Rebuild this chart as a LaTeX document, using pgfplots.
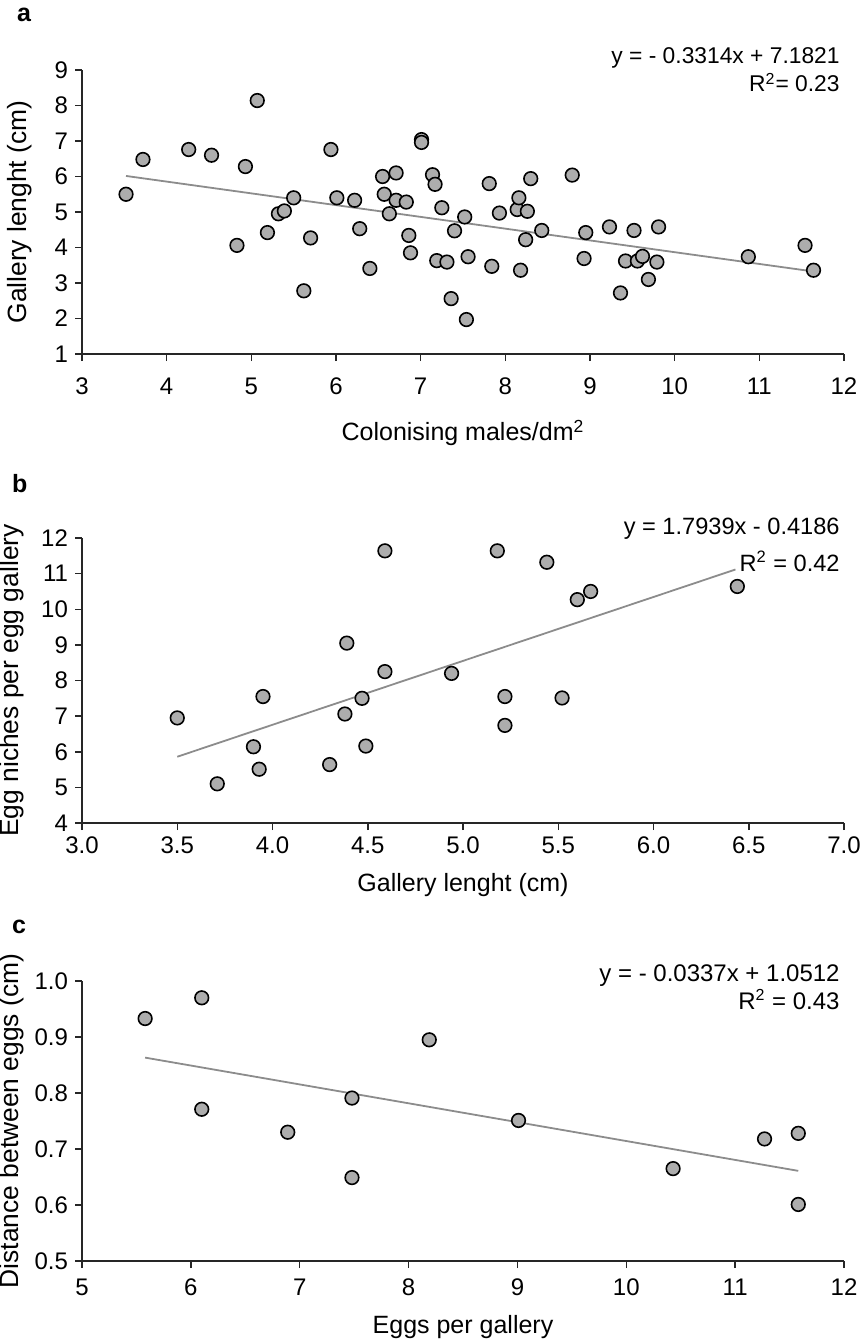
\documentclass[border=0pt]{standalone}
\usepackage{pgfplots}
\pgfplotsset{compat=1.18}
\usepackage{fontspec}
\setmainfont{Liberation Sans}
\definecolor{mfill}{gray}{0.68}
\definecolor{tline}{gray}{0.55}
\definecolor{axcol}{gray}{0.15}

\pgfplotsset{
 myax/.style={
  scale only axis, width=381pt,
  axis x line*=bottom, axis y line*=left,
  axis line style={axcol, line width=0.75pt, -},
  every tick/.style={axcol, line width=0.75pt},
  tick align=outside, major tick length=3.5pt,
  /pgf/number format/assume math mode=true,
  tick label style={font=\fontsize{12}{14}\selectfont},
  xlabel style={font=\fontsize{12.5}{15}\selectfont, anchor=center},
  ylabel style={font=\fontsize{13.2}{15}\selectfont, anchor=center, rotate=0},
  clip=false,
 },
 pts/.style={only marks, mark=*, mark size=3.4pt, mark options={fill=mfill, draw=black, line width=0.8pt}},
 trend/.style={no marks, draw=tline, line width=0.9pt},
}

\begin{document}
\begin{tikzpicture}
\useasboundingbox (0,0) rectangle (431pt,-671pt);

% ---------------- panel a
\begin{axis}[myax, height=142pt, at={(41pt,-177pt)}, anchor=south west,
  xmin=3, xmax=12, ymin=1, ymax=9,
  xtick={3,4,...,12}, ytick={1,2,...,9},
  xticklabel style={yshift=-5pt},
  xlabel={Colonising males/dm\textsuperscript{2}},
  xlabel style={at={(axis description cs:0.5,0)}, yshift=-39.5pt},
  ylabel={Gallery lenght (cm)},
  ylabel style={at={(axis description cs:-0.0814,0.5)}},
]
\addplot[trend] coordinates {(3.52,6.0156) (11.62,3.3312)};
\addplot[pts] coordinates {
(3.52,5.50) (3.72,6.48) (4.26,6.76) (4.53,6.60) (4.93,6.28) (5.07,8.14)
(5.94,6.76) (7.01,7.04) (7.01,6.96) (6.55,6.00) (6.71,6.10) (7.14,6.05)
(7.17,5.78) (7.81,5.80) (8.30,5.94) (8.79,6.04) (5.50,5.40) (5.32,4.95)
(5.39,5.03) (5.19,4.42) (4.83,4.06) (5.70,4.27) (5.62,2.78) (6.01,5.40)
(6.22,5.33) (6.28,4.53) (6.40,3.41) (6.57,5.50) (6.63,4.95) (6.71,5.33)
(6.83,5.28) (6.86,4.34) (6.88,3.85) (7.25,5.12) (7.19,3.63) (7.31,3.59)
(7.36,2.56) (7.52,4.86) (7.40,4.47) (7.56,3.74) (7.54,1.97) (7.84,3.47)
(7.93,4.97) (8.14,5.07) (8.16,5.40) (8.26,5.02) (8.24,4.22) (8.18,3.36)
(8.43,4.48) (8.95,4.42) (8.93,3.69) (9.23,4.58) (9.36,2.72) (9.42,3.62)
(9.52,4.48) (9.56,3.62) (9.62,3.75) (9.69,3.10) (9.79,3.59) (9.81,4.58)
(10.87,3.74) (11.54,4.06) (11.64,3.36)
};
\end{axis}

% ---------------- panel b
\begin{axis}[myax, height=142.5pt, at={(41pt,-411.5pt)}, anchor=south west,
  xmin=3, xmax=7, ymin=4, ymax=12,
  xtick={3,3.5,...,7}, ytick={4,5,...,12},
  xticklabel style={/pgf/number format/.cd, fixed, fixed zerofill, precision=1},
  xlabel={Gallery lenght (cm)},
  xlabel style={at={(axis description cs:0.5,0)}, yshift=-31pt},
  ylabel={Egg niches per egg gallery},
  ylabel style={at={(axis description cs:-0.0919,0.5)}},
]
\addplot[trend] coordinates {(3.50,5.8601) (6.43,11.1162)};
\addplot[pts] coordinates {
(4.59,11.64) (5.18,11.64) (5.44,11.32) (5.60,10.27) (5.67,10.50) (6.44,10.64)
(4.39,9.05) (4.59,8.25) (4.94,8.20) (3.95,7.55) (4.47,7.50) (5.22,7.55)
(5.52,7.51) (3.50,6.95) (4.38,7.06) (5.22,6.74) (3.90,6.14) (4.49,6.16)
(3.93,5.51) (4.30,5.64) (3.71,5.10)
};
\end{axis}

% ---------------- panel c
\begin{axis}[myax, height=140pt, at={(41pt,-630.5pt)}, anchor=south west,
  xmin=5, xmax=12, ymin=0.5, ymax=1.0,
  xtick={5,6,...,12}, ytick={0.5,0.6,0.7,0.8,0.9,1.0},
  yticklabel style={/pgf/number format/.cd, fixed, fixed zerofill, precision=1},
  xticklabel style={yshift=-2pt},
  xlabel={Eggs per gallery},
  xlabel style={at={(axis description cs:0.5,0)}, yshift=-33pt},
  ylabel={Distance between eggs (cm)},
  ylabel style={at={(axis description cs:-0.0919,0.5)}},
]
\addplot[trend] coordinates {(5.58,0.8632) (11.58,0.6610)};
\addplot[pts] coordinates {
(5.58,0.933) (6.10,0.970) (8.19,0.895) (6.10,0.771) (6.89,0.730) (7.48,0.791)
(7.48,0.649) (9.01,0.751) (10.43,0.665) (11.27,0.718) (11.58,0.728) (11.58,0.601)
};
\end{axis}

% panel letters and regression texts
\node[anchor=base west, font=\bfseries\fontsize{12.5}{15}\selectfont] at (5pt,-11pt) {a};
\node[anchor=base west, font=\bfseries\fontsize{12.5}{15}\selectfont] at (2.5pt,-246pt) {b};
\node[anchor=base west, font=\bfseries\fontsize{12.5}{15}\selectfont] at (2.5pt,-466.5pt) {c};

\node[anchor=base east, inner sep=0pt, font=\fontsize{11.4}{14}\selectfont] at (420pt,-32pt) {y = - 0.3314x + 7.1821};
\node[anchor=base east, inner sep=0pt, font=\fontsize{11.4}{14}\selectfont] at (420pt,-46pt) {R\textsuperscript{2}= 0.23};
\node[anchor=base east, inner sep=0pt, font=\fontsize{11.8}{14}\selectfont] at (420pt,-267pt) {y = 1.7939x - 0.4186};
\node[anchor=base east, inner sep=0pt, font=\fontsize{11.8}{14}\selectfont] at (420pt,-285.5pt) {R\textsuperscript{2} = 0.42};
\node[anchor=base east, inner sep=0pt, font=\fontsize{12}{14}\selectfont] at (420pt,-490.5pt) {y = - 0.0337x + 1.0512};
\node[anchor=base east, inner sep=0pt, font=\fontsize{12}{14}\selectfont] at (420pt,-504.5pt) {R\textsuperscript{2} = 0.43};
\end{tikzpicture}
\end{document}
